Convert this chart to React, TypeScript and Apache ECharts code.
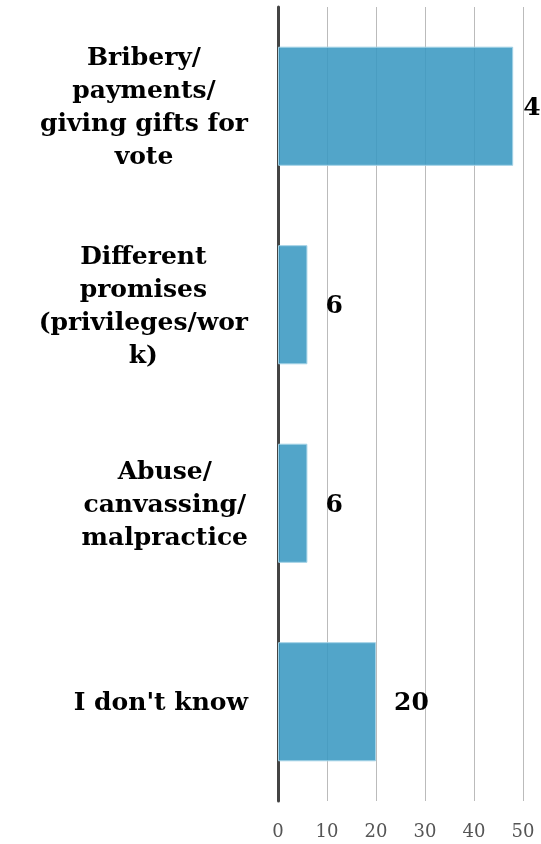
import React, { useEffect, useRef } from "react";
import * as echarts from "echarts";

const categories = [
  "Bribery/\npayments/\ngiving gifts for\nvote",
  "Different\npromises\n(privileges/wor\nk)",
  "Abuse/\ncanvassing/\nmalpractice",
  "I don't know",
];
const values = [48, 6, 6, 20];
const labelDistances = [10, 18, 18, 18];
const xTicks = { min: 0, max: 50, interval: 10 };

export default function App() {
  const ref = useRef<HTMLDivElement>(null);
  useEffect(() => {
    if (!ref.current) return;
    const chart = echarts.init(ref.current, null, { renderer: "svg" });
    chart.setOption({
      animation: false,
      grid: { left: 278, right: 18, top: 7, bottom: 43, outerBoundsMode: "none" },
      xAxis: {
        type: "value",
        min: xTicks.min,
        max: xTicks.max,
        interval: xTicks.interval,
        axisLine: { show: false },
        axisTick: { show: false },
        splitLine: { show: true, lineStyle: { color: "#bbbbbb", width: 1 } },
        axisLabel: {
          color: "#555555",
          fontFamily: "DejaVu Serif",
          fontSize: 18,
          margin: 20,
        },
      },
      yAxis: {
        type: "category",
        data: categories,
        inverse: true,
        axisLine: { show: true, lineStyle: { color: "#444444", width: 3 } },
        axisTick: { show: false },
        splitLine: { show: false },
        axisLabel: {
          margin: 30,
          align: "right",
          formatter: (v: string) =>
            v
              .split("\n")
              .map((l) => `{c|${l}}`)
              .join("\n"),
          rich: {
            c: {
              align: "center",
              fontFamily: "DejaVu Serif",
              fontWeight: "bold",
              fontSize: 25,
              lineHeight: 33,
              color: "#000000",
            },
          },
        },
      },
      series: [
        {
          type: "bar",
          data: values.map((v, i) => ({
            value: v,
            label: { distance: labelDistances[i] },
          })),
          barCategoryGap: "40%",
          itemStyle: {
            color: "rgba(58,152,194,0.88)",
            borderColor: "#a3d2e6",
            borderWidth: 1,
          },
          label: {
            show: true,
            position: "right",
            distance: 18,
            fontFamily: "DejaVu Serif",
            fontWeight: "bold",
            fontSize: 25,
            color: "#000000",
          },
        },
      ],
    });
    return () => chart.dispose();
  }, []);
  return (
    <div
      ref={ref}
      style={{ position: "fixed", left: 0, top: 0, width: 541, height: 844 }}
    />
  );
}
